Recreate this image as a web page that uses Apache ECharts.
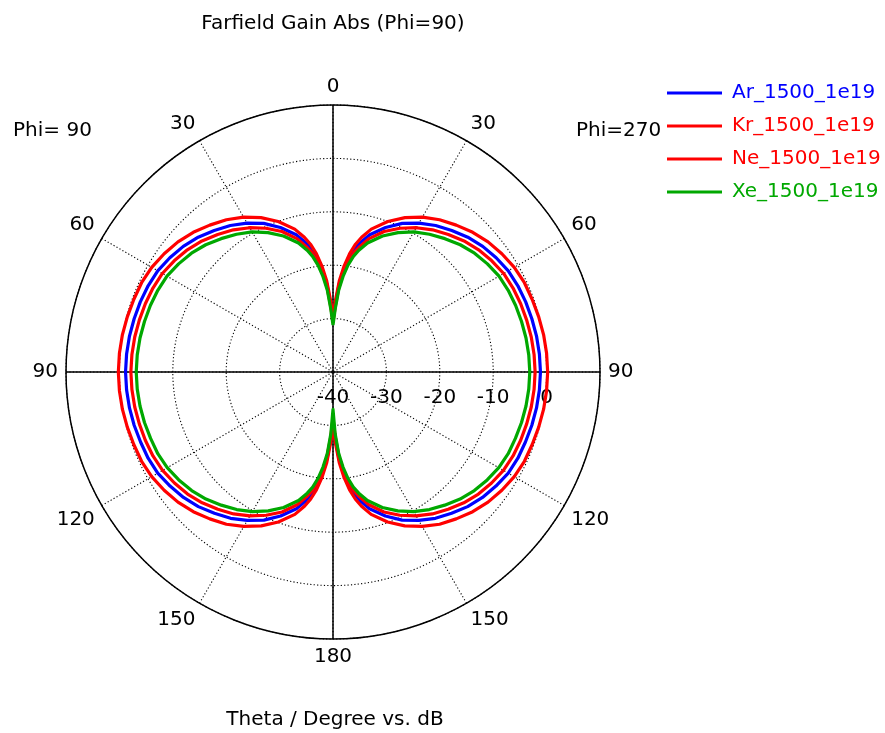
<!DOCTYPE html>
<html>
<head>
<meta charset="utf-8">
<script src="https://cdn.jsdelivr.net/npm/echarts@6/dist/echarts.min.js"></script>
<style>
  html, body { margin: 0; padding: 0; background: #ffffff; }
  #chart { width: 885px; height: 733px; }
</style>
</head>
<body>
<div id="chart"></div>
<script>
// Theta samples (degrees) of the Phi=90 / Phi=270 cut
const thetaDeg = [0, 2, 4, 6, 8, 10, 12, 15, 20, 25, 30, 35, 40, 45, 50, 55, 60, 65, 70, 75, 80, 85, 90,
  95, 100, 105, 110, 115, 120, 125, 130, 135, 140, 145, 150, 155, 160, 165, 168, 170, 172, 174, 176, 178, 180];

// Farfield gain (dB) per gas, one value per theta sample
const gainAr = [-30.2, -27.2, -23.5, -20.8, -18.5, -16.6, -15.2, -13.4, -11.2, -9.3, -7.8, -6.5, -5.4, -4.3, -3.4, -2.7, -2.1, -1.8, -1.6, -1.45, -1.3, -1.2, -1.15,
  -1.2, -1.3, -1.45, -1.65, -1.8, -2.1, -2.75, -3.45, -4.35, -5.45, -6.55, -7.9, -9.4, -11.3, -13.5, -15.3, -16.7, -18.6, -20.9, -23.6, -27.3, -30.6];
const gainKr = [-29.5, -26.5, -22.8, -20.0, -17.6, -15.7, -14.2, -12.3, -10.0, -8.1, -6.5, -5.2, -4.1, -3.0, -2.1, -1.4, -0.8, -0.45, -0.3, -0.12, 0.05, 0.15, 0.2,
  0.15, 0.05, -0.12, -0.3, -0.45, -0.8, -1.4, -2.1, -3.0, -4.1, -5.2, -6.6, -8.2, -10.1, -12.4, -14.3, -15.8, -17.7, -20.1, -22.9, -26.6, -29.5];
const gainNe = [-30.7, -27.7, -24.1, -21.4, -19.1, -17.3, -16.0, -14.2, -12.0, -10.3, -8.8, -7.5, -6.4, -5.3, -4.4, -3.7, -3.1, -2.8, -2.6, -2.45, -2.3, -2.2, -2.15,
  -2.2, -2.3, -2.45, -2.6, -2.8, -3.15, -3.75, -4.45, -5.35, -6.45, -7.55, -8.9, -10.4, -12.1, -14.3, -16.1, -17.4, -19.2, -21.5, -24.2, -27.8, -31.3];
const gainXe = [-31.2, -28.2, -24.6, -22.0, -19.8, -18.0, -16.7, -15.0, -12.9, -11.2, -9.7, -8.5, -7.4, -6.3, -5.4, -4.7, -4.1, -3.8, -3.6, -3.45, -3.3, -3.2, -3.15,
  -3.2, -3.3, -3.45, -3.65, -3.8, -4.15, -4.75, -5.45, -6.35, -7.45, -8.55, -9.8, -11.3, -13.0, -15.1, -16.8, -18.1, -19.9, -22.1, -24.7, -28.4, -33.0];

const seriesNames = ['Ar_1500_1e19', 'Kr_1500_1e19', 'Ne_1500_1e19', 'Xe_1500_1e19'];
const seriesGains = [gainAr, gainKr, gainNe, gainXe];
const seriesColors = ['#0000ff', '#ff0000', '#ff0000', '#00a800'];

// Radial scale (dB) and angular tick step (degrees)
const radiusMin = -40;
const radiusMax = 10;
const radiusStep = 10;
const angleStep = 30;

const FONT = '"DejaVu Sans", sans-serif';

// Closed trace: Phi=270 half runs clockwise from the top, Phi=90 half comes back up the left.
// Angle axis: 0 at 3 o'clock, counter-clockwise, so theta=0 sits at 90.
function traceLoop(gain) {
  const pts = [];
  thetaDeg.forEach((t, i) => pts.push([gain[i], (450 - t) % 360]));
  for (let i = thetaDeg.length - 1; i >= 0; i--) pts.push([gain[i], 90 + thetaDeg[i]]);
  return pts;
}

function thetaLabel(v) {
  if (v >= 360) return '';
  return String(v <= 270 ? Math.abs(v - 90) : 450 - v);
}

const dotted = { color: '#000', width: 1.1, type: [1.2, 2.2] };
const center = [333, 372];
const outerRadius = 267;

const chart = echarts.init(document.getElementById('chart'), null, { renderer: 'canvas' });

chart.setOption({
  animation: false,
  backgroundColor: '#ffffff',
  polar: [
    { center: center, radius: outerRadius },
    { center: center, radius: outerRadius }
  ],
  angleAxis: [
    {
      polarIndex: 0,
      type: 'value',
      min: 0, max: 360, interval: angleStep,
      startAngle: 0, clockwise: false,
      axisLine: { show: true, lineStyle: { color: '#000', width: 1.5 } },
      axisTick: { show: false },
      axisLabel: { show: true, margin: 8, color: '#000', fontSize: 20, fontFamily: FONT, formatter: thetaLabel },
      splitLine: { show: true, lineStyle: dotted }
    },
    {
      polarIndex: 1,
      type: 'value',
      min: 0, max: 360, interval: 90,
      startAngle: 0, clockwise: false,
      axisLine: { show: false },
      axisTick: { show: false },
      axisLabel: { show: false },
      splitLine: { show: true, lineStyle: { color: '#000', width: 1.5, type: 'solid' } }
    }
  ],
  radiusAxis: [
    {
      polarIndex: 0,
      type: 'value',
      min: radiusMin, max: radiusMax, interval: radiusStep,
      axisLine: { show: false },
      axisTick: { show: false },
      axisLabel: {
        show: true, margin: -16, color: '#000', fontSize: 20, fontFamily: FONT,
        align: 'center', verticalAlign: 'top',
        formatter: v => (v > 0 ? '' : String(v))
      },
      splitLine: { show: true, lineStyle: dotted }
    },
    {
      polarIndex: 1,
      type: 'value',
      min: radiusMin, max: radiusMax, interval: radiusStep,
      show: false
    }
  ],
  legend: {
    orient: 'vertical',
    left: 667, top: 83, padding: 0,
    itemWidth: 55, itemHeight: 3, itemGap: 13,
    icon: 'rect',
    textStyle: { fontSize: 20, fontFamily: FONT, lineHeight: 20, padding: [0, 0, 0, 5] },
    data: seriesNames.map((n, i) => ({ name: n, textStyle: { color: seriesColors[i] } }))
  },
  graphic: [
    { type: 'text', x: 333, y: 24, style: { text: 'Farfield Gain Abs (Phi=90)', font: '20px ' + FONT, fill: '#000', align: 'center', verticalAlign: 'middle' } },
    { type: 'text', x: 13, y: 131, style: { text: 'Phi= 90', font: '20px ' + FONT, fill: '#000', align: 'left', verticalAlign: 'middle' } },
    { type: 'text', x: 576, y: 131, style: { text: 'Phi=270', font: '20px ' + FONT, fill: '#000', align: 'left', verticalAlign: 'middle' } },
    { type: 'text', x: 335, y: 720, style: { text: 'Theta / Degree vs. dB', font: '20px ' + FONT, fill: '#000', align: 'center', verticalAlign: 'middle' } }
  ],
  series: seriesNames.map((n, i) => ({
    name: n,
    type: 'line',
    coordinateSystem: 'polar',
    polarIndex: 0,
    showSymbol: false,
    symbol: 'none',
    clip: false,
    smooth: false,
    lineStyle: { color: seriesColors[i], width: 3.2, join: 'round' },
    itemStyle: { color: seriesColors[i] },
    data: traceLoop(seriesGains[i]),
    z: 3 + i
  }))
});
</script>
</body>
</html>
